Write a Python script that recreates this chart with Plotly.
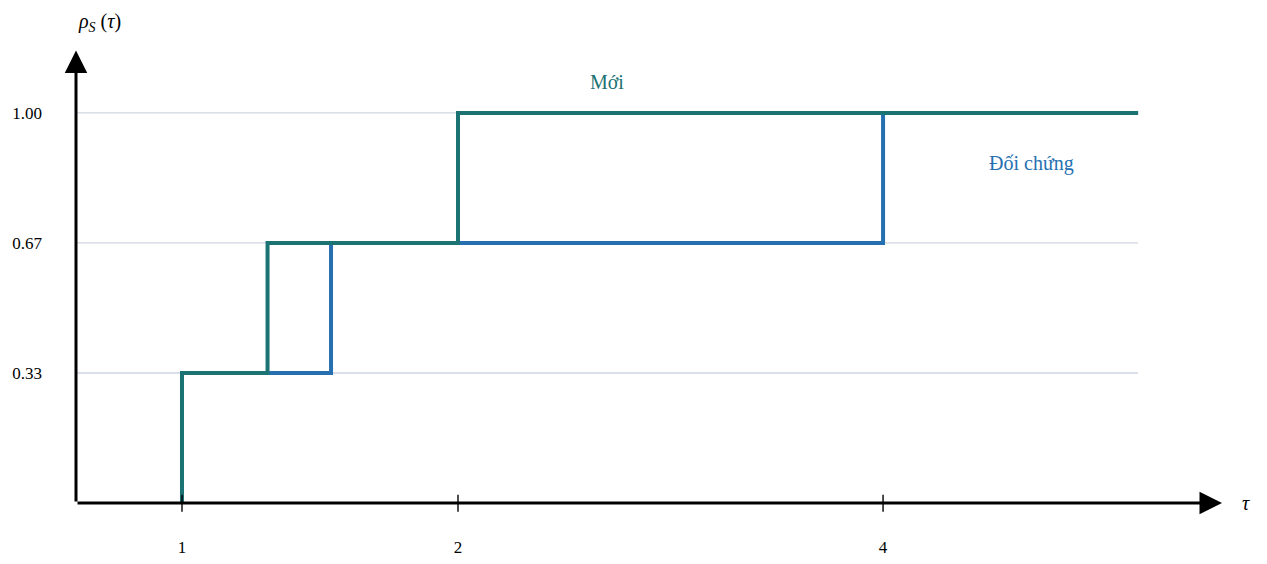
import numpy as np
import plotly.graph_objects as go

# profils de performance (escaliers)
tau_new = [1, 1, 1.31, 1.31, 2, 2, 5.2]
rho_new = [0, 1/3, 1/3, 2/3, 2/3, 1, 1]

tau_ref = [1, 1, 1.54, 1.54, 4, 4, 5.2]
rho_ref = [0, 1/3, 1/3, 2/3, 2/3, 1, 1]

tick_tau = [1, 2, 4]
tick_text = ["1", "2", "4"]
y_ticks = [1/3, 2/3, 1]
y_text = ["0.33", "0.67", "1.00"]

TEAL = "#1c7374"
BLUE = "#2670b2"
FONT = "Liberation Serif"

# echelle de l'axe tau (non uniforme) : ancres des graduations
anchor_tau = np.array([1, 2, 4])
anchor_pos = np.array([1, 2, 3.54])


def tau_to_pos(t):
    t = np.asarray(t, dtype=float)
    pos = np.interp(t, anchor_tau, anchor_pos)
    slope = (anchor_pos[-1] - anchor_pos[-2]) / (anchor_tau[-1] - anchor_tau[-2])
    pos = np.where(t > anchor_tau[-1], anchor_pos[-1] + (t - anchor_tau[-1]) * slope, pos)
    return pos


x_min, x_max = 0.616, 4.768
y_min, y_max = 0, 1.187
x_end = float(tau_to_pos(5.2))

fig = go.Figure()

# grille horizontale
for yv in y_ticks:
    fig.add_shape(type="line", x0=x_min, x1=x_end, y0=yv, y1=yv,
                  line=dict(color="#cfd5df", width=1.3), layer="below")

fig.add_trace(go.Scatter(x=tau_to_pos(tau_ref), y=rho_ref, mode="lines",
                         line=dict(color=BLUE, width=4), showlegend=False))
fig.add_trace(go.Scatter(x=tau_to_pos(tau_new), y=rho_new, mode="lines",
                         line=dict(color=TEAL, width=4), showlegend=False))

# graduations en croix sur l'axe tau (en coordonnees papier pour ne pas etre coupees)
for t in tick_tau:
    fx = (float(tau_to_pos(t)) - x_min) / (x_max - x_min)
    fig.add_shape(type="line", x0=fx, x1=fx, y0=-0.019, y1=0.018, xref="paper", yref="paper",
                  line=dict(color="black", width=1.4))

# axes avec fleches
fig.add_annotation(x=x_max, y=0, ax=x_min, ay=0, xref="x", yref="y", axref="x", ayref="y",
                   showarrow=True, arrowhead=2, arrowsize=1.5, arrowwidth=3, arrowcolor="black", text="")
fig.add_annotation(x=x_min, y=1.16, ax=x_min, ay=0, xref="x", yref="y", axref="x", ayref="y",
                   showarrow=True, arrowhead=2, arrowsize=1.5, arrowwidth=3, arrowcolor="black", text="")

fig.add_annotation(x=0, y=1.0, xref="paper", yref="paper", yanchor="middle", yshift=18,
                   showarrow=False,
                   text="<i>ρ</i><sub><i>S</i></sub> (<i>τ</i>)", font=dict(family=FONT, size=20, color="black"))
fig.add_annotation(x=x_max, y=0, xref="x", yref="y", xanchor="left", xshift=18, showarrow=False,
                   text="<i>τ</i>", font=dict(family=FONT, size=20, color="black"))
fig.add_annotation(x=float(tau_to_pos(2.70)), y=1.08, xref="x", yref="y", showarrow=False,
                   text="Mới", font=dict(family=FONT, size=20, color=TEAL))
fig.add_annotation(x=float(tau_to_pos(4.70)), y=0.87, xref="x", yref="y", showarrow=False,
                   text="Đối chứng", font=dict(family=FONT, size=20, color=BLUE))

fig.update_layout(
    width=1267, height=564,
    margin=dict(l=68, r=53, t=32, b=69, autoexpand=False),
    plot_bgcolor="white", paper_bgcolor="white",
    font=dict(family=FONT, size=17, color="black"),
    xaxis=dict(range=[x_min, x_max], tickvals=tau_to_pos(tick_tau), ticktext=tick_text,
               showgrid=False, zeroline=False, showline=False, ticks="",
               ticklabelstandoff=32, automargin=False, fixedrange=True),
    yaxis=dict(range=[y_min, y_max], tickvals=y_ticks, ticktext=y_text,
               showgrid=False, zeroline=False, showline=False, ticks="",
               ticklabelstandoff=33, automargin=False, fixedrange=True),
)

fig.write_html("out.html")
